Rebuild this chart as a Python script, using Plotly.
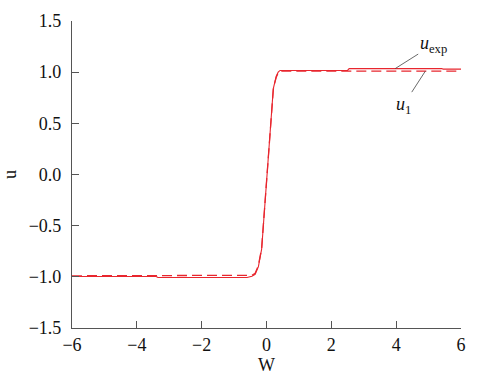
import plotly.graph_objects as go

# Data
W_exp = [-6.0, -3.4, -3.35, -0.6, -0.45, -0.35, -0.25, -0.15, 0.21, 0.25, 0.30, 0.36, 0.42, 2.5, 2.55, 5.4, 5.45, 6.0]
u_exp = [-0.997, -0.997, -1.007, -1.007, -0.995, -0.975, -0.90, -0.73, 0.84, 0.90, 0.96, 1.0, 1.017, 1.017, 1.035, 1.035, 1.03, 1.03]

W_1 = [-6.0, -0.6, -0.45, -0.35, -0.25, -0.15, 0.21, 0.25, 0.30, 0.36, 0.42, 6.0]
u_1 = [-0.99, -0.99, -0.985, -0.965, -0.89, -0.72, 0.83, 0.89, 0.95, 0.99, 1.01, 1.01]

x_ticks = [-6, -4, -2, 0, 2, 4, 6]
y_ticks = [-1.5, -1.0, -0.5, 0.0, 0.5, 1.0, 1.5]

RED = "#e8262e"
AXIS = "#555555"
FONT = "Liberation Serif, Times New Roman, serif"

fig = go.Figure()
fig.add_trace(go.Scatter(x=W_exp, y=u_exp, mode="lines",
                         line=dict(color=RED, width=1.1), name="u_exp"))
fig.add_trace(go.Scatter(x=W_1, y=u_1, mode="lines",
                         line=dict(color=RED, width=1.3, dash="10px,5px"), name="u_1"))

fig.add_annotation(x=3.97, y=1.035, ax=38, ay=-24, text="<i>u</i><sub>exp</sub>",
                   showarrow=True, arrowhead=0, arrowwidth=0.8, arrowcolor="#444444",
                   font=dict(family=FONT, size=18, color="#111111"))
fig.add_annotation(x=4.9, y=1.01, ax=-22, ay=34, text="<i>u</i><sub>1</sub>",
                   showarrow=True, arrowhead=0, arrowwidth=0.8, arrowcolor="#444444",
                   font=dict(family=FONT, size=18, color="#111111"))

axis_common = dict(showgrid=False, zeroline=False, showline=True, linecolor=AXIS,
                   linewidth=1.2, ticks="inside", ticklen=7, tickcolor=AXIS,
                   tickwidth=1, mirror=False, automargin=False,
                   tickfont=dict(family=FONT, size=18, color="#111111"))

fig.update_xaxes(range=[-6, 6], tickvals=x_ticks,
                 ticktext=[str(t).replace("-", "\u2212") for t in x_ticks],
                 ticklabelstandoff=0,
                 title=dict(text="W", font=dict(family=FONT, size=18, color="#111111"), standoff=0),
                 **axis_common)
fig.update_yaxes(range=[-1.5, 1.5], tickvals=y_ticks,
                 ticktext=[f"{t:.1f}".replace("-", "\u2212") for t in y_ticks],
                 ticklabelstandoff=6,
                 title=dict(text="u", font=dict(family=FONT, size=18, color="#111111"), standoff=8),
                 **axis_common)

fig.update_layout(width=490, height=377, margin=dict(l=72, r=29, t=21, b=49),
                  plot_bgcolor="white", paper_bgcolor="white", showlegend=False)

fig.write_html("out.html")
